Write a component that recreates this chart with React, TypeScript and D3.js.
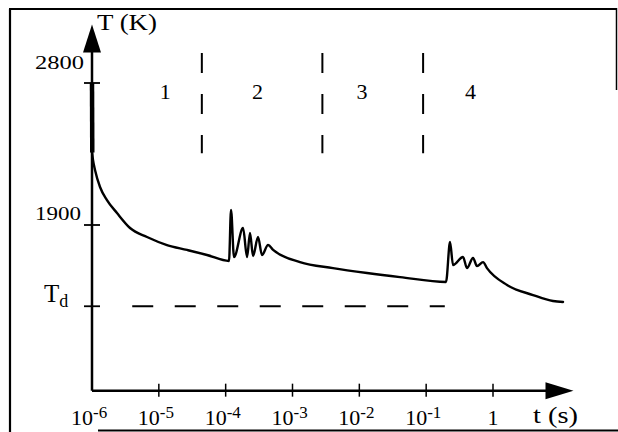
import React from "react";
import * as d3 from "d3";

// ---- data (time in seconds, temperature in K) ----
const pulseT = [1e-6, 1.01e-6];
const pulseK = [2800, 2360];

const curveLogT = [
  -5.999, -5.985, -5.955, -5.88, -5.776, -5.626, -5.431, -5.177, -4.878, -4.578, -4.279, -3.95,
  -3.92, -3.875, -3.74, -3.68, -3.636, -3.59, -3.516, -3.456, -3.366, -3.29,
  -2.888, -2.394, -1.885, -1.391, -0.703,
  -0.643, -0.598, -0.449, -0.389, -0.299, -0.239, -0.149, -0.09,
  0.21, 0.599, 0.898, 1.048,
];
const curveK = [
  2360, 2312, 2249, 2141, 2058, 1976, 1881, 1824, 1773, 1742, 1710, 1672,
  1995, 1697, 1881, 1697, 1849, 1703, 1824, 1710, 1773, 1742,
  1665, 1627, 1596, 1570, 1539,
  1792, 1646, 1697, 1627, 1691, 1640, 1665, 1627,
  1520, 1456, 1418, 1412,
];

const Td = 1385;
const tdLineT = [4e-6, 0.19];

const xTickValues = [1e-6, 1e-5, 1e-4, 1e-3, 1e-2, 1e-1, 1];
const xTickExp = ["-6", "-5", "-4", "-3", "-2", "-1", ""];
const yTickValues = [2800, 1900];

const phaseBounds = [4.4e-5, 2.8e-3, 0.09];
const phaseLabels = ["1", "2", "3", "4"];
const phaseLabelT = [1.25e-5, 3.0e-4, 1.1e-2, 0.46];
const phaseTop = 2990;
const phaseBottom = 2355;

const yMin = 850;
const yTop = 3170;
const xEnd = 16;

export default function App() {
  const W = 618;
  const H = 432;
  const x = d3.scaleLog().domain([1e-6, 1]).range([92, 493]);
  const y = d3.scaleLinear().domain([2800, 1900]).range([83, 225]);

  const line = d3
    .line<[number, number]>()
    .x((d) => x(d[0]))
    .y((d) => y(d[1]));
  const smooth = d3
    .line<[number, number]>()
    .x((d) => x(d[0]))
    .y((d) => y(d[1]))
    .curve(d3.curveMonotoneX);

  const curvePts: [number, number][] = curveLogT.map((lt, i) => [Math.pow(10, lt), curveK[i]]);
  const pulsePts: [number, number][] = pulseT.map((t, i) => [t, pulseK[i]]);

  const x0 = x(1e-6);
  const yBase = y(yMin);
  const xArrow = x(xEnd);
  const yArrow = y(yTop);
  const labelY = 425;

  return (
    <svg
      width={W}
      height={H}
      style={{ position: "absolute", left: 0, top: 0, background: "#fff" }}
      fontFamily="'Liberation Serif', 'Times New Roman', serif"
    >
      <rect x={0} y={0} width={W} height={H} fill="#fff" />
      {/* frame */}
      <g stroke="#000" fill="none">
        <line x1={10} y1={9} x2={10} y2={432} strokeWidth={2.2} />
        <line x1={9} y1={9} x2={617} y2={9} strokeWidth={2} />
        <line x1={616.5} y1={8} x2={616.5} y2={90} strokeWidth={1.5} />
        <line x1={98} y1={430.5} x2={618} y2={430.5} strokeWidth={1.8} />
      </g>

      {/* axes */}
      <g stroke="#000" strokeWidth={2.5} fill="none">
        <line x1={x0} y1={yBase} x2={xArrow - 20} y2={yBase} />
        <line x1={x0} y1={yBase} x2={x0} y2={yArrow + 20} />
      </g>
      <path
        d={`M${xArrow},${yBase} L${xArrow - 28},${yBase - 8.5} L${xArrow - 28},${yBase + 8.5} Z`}
        fill="#000"
      />
      <path
        d={`M${x0},${yArrow} L${x0 - 9},${yArrow + 28} L${x0 + 9},${yArrow + 28} Z`}
        fill="#000"
      />

      {/* x ticks */}
      {xTickValues.map((v, i) => (
        <g key={"xt" + i}>
          {i > 0 && (
            <line x1={x(v)} x2={x(v)} y1={yBase - 7} y2={yBase + 6} stroke="#000" strokeWidth={1.5} />
          )}
          {xTickExp[i] ? (
            <text x={x(v) - 21} y={labelY} fontSize={22}>
              10
              <tspan fontSize={17} dy={-7}>
                {xTickExp[i]}
              </tspan>
            </text>
          ) : (
            <text x={x(v)} y={labelY} fontSize={22} textAnchor="middle">
              1
            </text>
          )}
        </g>
      ))}
      <text x={533} y={423} fontSize={23} textLength={45} lengthAdjust="spacingAndGlyphs">
        t (s)
      </text>

      {/* y ticks */}
      {yTickValues.map((v, i) => (
        <line key={"yt" + i} x1={x0 - 8} x2={x0 + 8} y1={y(v)} y2={y(v)} stroke="#000" strokeWidth={1.8} />
      ))}
      <line x1={x0 - 8} x2={x0 + 8} y1={y(Td)} y2={y(Td)} stroke="#000" strokeWidth={1.8} />
      <text x={35} y={y(2800) - 14} fontSize={18} textLength={49} lengthAdjust="spacingAndGlyphs">
        2800
      </text>
      <text x={35} y={y(1900) - 5} fontSize={19} textLength={46} lengthAdjust="spacingAndGlyphs">
        1900
      </text>
      <text x={44} y={y(Td) - 4} fontSize={25}>
        T
        <tspan fontSize={18} dy={5}>
          d
        </tspan>
      </text>
      <text x={97} y={30} fontSize={23} textLength={60} lengthAdjust="spacingAndGlyphs">
        T (K)
      </text>

      {/* Td dashed line */}
      <line
        x1={x(tdLineT[0])}
        x2={x(tdLineT[1])}
        y1={y(Td)}
        y2={y(Td)}
        stroke="#000"
        strokeWidth={2}
        strokeDasharray="21,21.5"
      />

      {/* phase separators */}
      {phaseBounds.map((t, i) => (
        <line
          key={"pb" + i}
          x1={x(t)}
          x2={x(t)}
          y1={y(phaseTop)}
          y2={y(phaseBottom)}
          stroke="#000"
          strokeWidth={2}
          strokeDasharray="20,21"
        />
      ))}
      {phaseLabels.map((s, i) => (
        <text key={"pl" + i} x={x(phaseLabelT[i])} y={99} fontSize={22} textAnchor="middle">
          {s}
        </text>
      ))}

      {/* curve */}
      <path d={line(pulsePts) || ""} stroke="#000" strokeWidth={4.5} fill="none" />
      <path
        d={smooth(curvePts) || ""}
        stroke="#000"
        strokeWidth={2.4}
        fill="none"
        strokeLinejoin="round"
        strokeLinecap="round"
      />
    </svg>
  );
}
